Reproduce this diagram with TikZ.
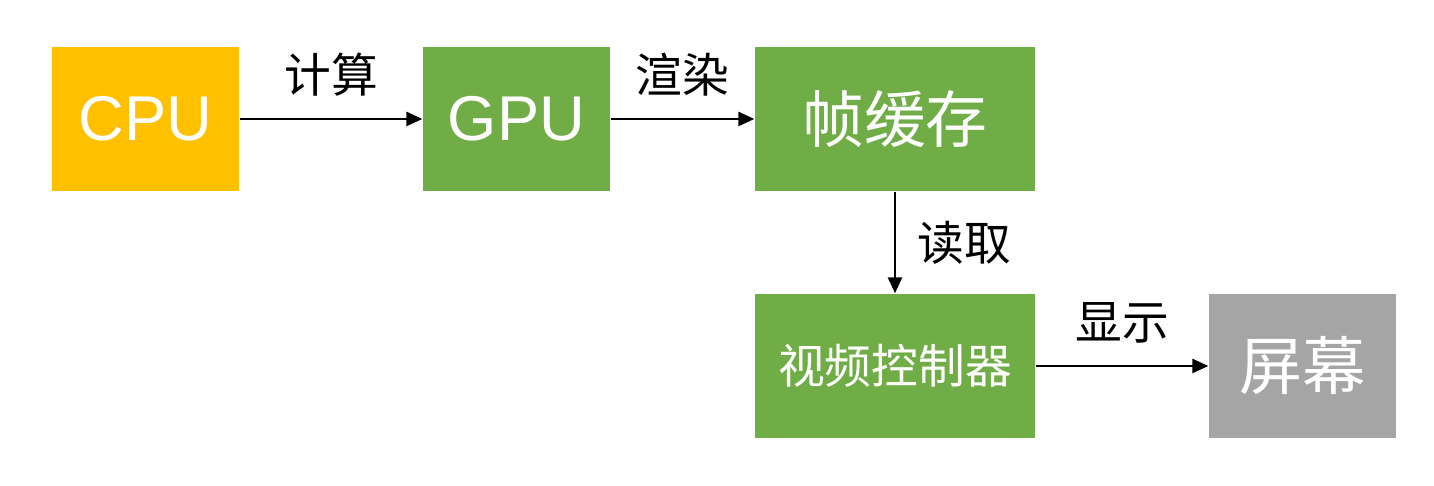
\documentclass[tikz,border=0pt]{standalone}
\usepackage{fontspec}
\setmainfont{Liberation Sans}
\newfontfamily\cjk{Noto Sans CJK SC}
\usetikzlibrary{arrows.meta}
\definecolor{cpuorange}{HTML}{FFC000}
\definecolor{boxgreen}{HTML}{70AD47}
\definecolor{screengray}{HTML}{A5A5A5}

\begin{document}
\begin{tikzpicture}[
    block/.style={fill=#1, text=white, minimum width=1.87cm, minimum height=1.44cm, inner sep=0pt},
    wideblock/.style={block=#1, minimum width=2.80cm},
    flow/.style={-{Triangle[length=4.5pt,width=4pt]}, line width=0.6pt},
    tag/.style={font=\cjk\fontsize{13.3}{15}\selectfont}
  ]
  \useasboundingbox (0,0) rectangle (14.34,4.86);

  % Blocks
  \node[block=cpuorange, font=\fontsize{18}{21}\selectfont] (cpu) at (1.455,3.67) {CPU};
  \node[block=boxgreen, font=\fontsize{18}{21}\selectfont] (gpu) at (5.165,3.67) {GPU};
  \node[wideblock=boxgreen, font=\cjk\fontsize{17.6}{20}\selectfont] (fb) at (8.95,3.67) {帧缓存};
  \node[wideblock=boxgreen, font=\cjk\fontsize{13.3}{15}\selectfont] (vc) at (8.95,1.20) {视频控制器};
  \node[block=screengray, font=\cjk\fontsize{18}{21}\selectfont] (screen) at (13.025,1.20) {屏幕};

  % Connectors
  \draw[flow] (cpu) -- node[tag, midway, above=1mm] (l1) {计算} (gpu);
  \draw[flow] (gpu) -- node[tag, midway, above=1mm] (l2) {渲染} (fb);
  \draw[flow] (fb) -- node[tag, midway, right=1mm] (l3) {读取} (vc);
  \draw[flow] (vc) -- node[tag, midway, above=1mm] (l4) {显示} (screen);
\end{tikzpicture}
\end{document}
